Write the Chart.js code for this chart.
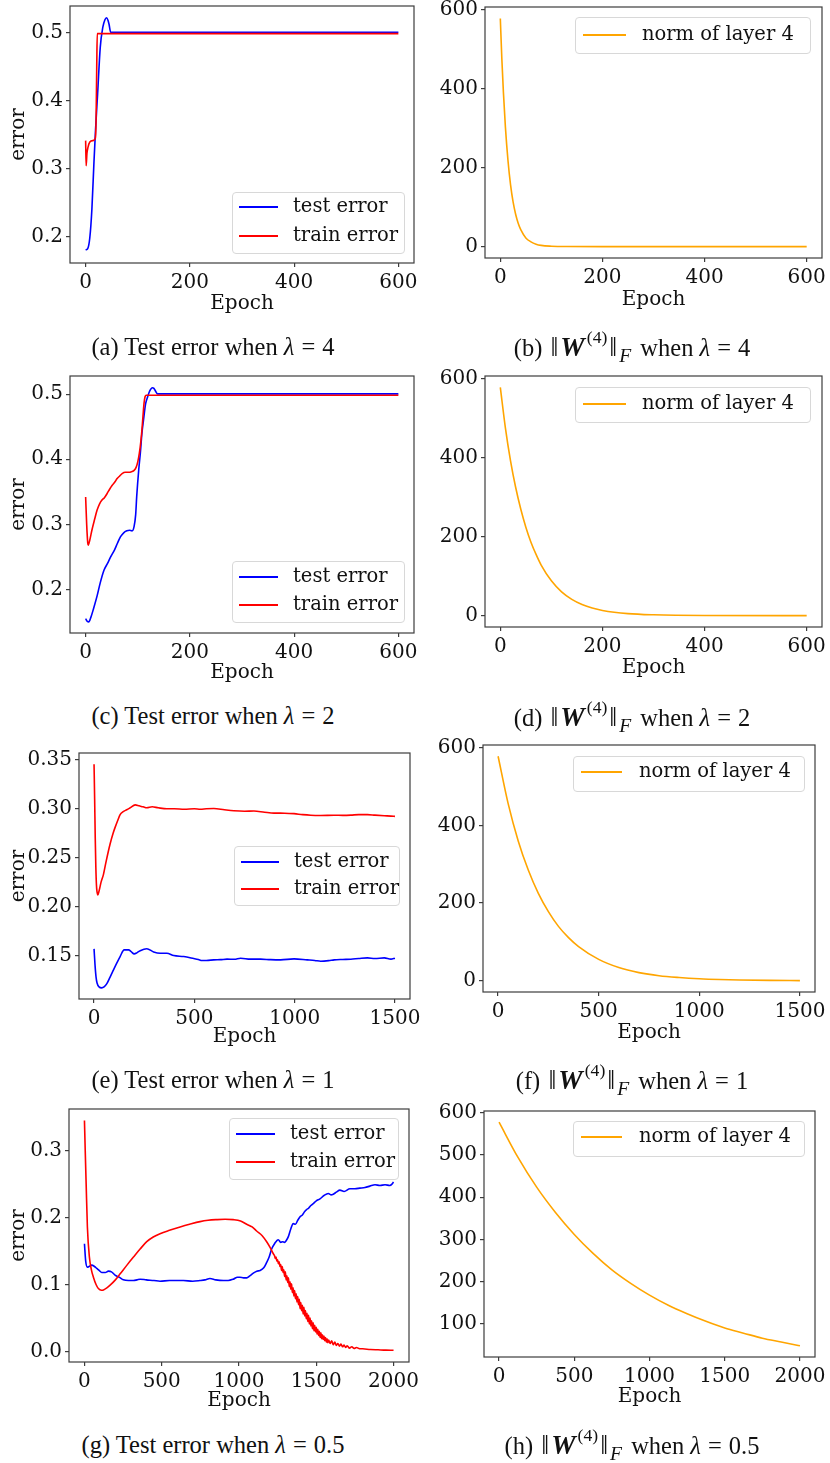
<!DOCTYPE html>
<html>
<head>
<meta charset="utf-8">
<script src="https://cdn.jsdelivr.net/npm/chart.js@4.4.0/dist/chart.umd.min.js"></script>
<style>
  body { margin: 0; background: #fff; }
  #page { position: relative; width: 830px; height: 1463px; overflow: hidden; background: #fff; }
  canvas { position: absolute; }
  .leg { position: absolute; background: rgba(255,255,255,0.8); border: 1px solid #d8d8d8; border-radius: 4px; box-sizing: border-box; }
  .legline { position: absolute; height: 2px; }
  .legtxt { position: absolute; font: 19.5px 'DejaVu Serif'; line-height: 20px; white-space: nowrap; color: #111; }
  .cap { position: absolute; transform: translate(-50%, -50%); font: 24.5px 'Liberation Serif'; white-space: nowrap; color: #111; }
  .cap .nm { font-size: 1.15em; margin: 0 2px; }
  .cap .w { font-size: 1.12em; margin-right: 1px; }
  .cap .eq { margin: 0 7px; }
  .cap sup { font-size: 0.72em; vertical-align: 0.75em; line-height: 0; margin-left: 1px; }
  .cap sub { font-size: 0.8em; vertical-align: -0.3em; line-height: 0; margin-right: 3px; }
</style>
</head>
<body>
<div id="page"></div>
<script>
// tick labels
const ticks600 = [0, 200, 400, 600];
const ticks1500 = [0, 500, 1000, 1500];
const ticks2000 = [0, 500, 1000, 1500, 2000];
const errTicksAC = [0.2, 0.3, 0.4, 0.5];
const errTicksE = [0.15, 0.20, 0.25, 0.30, 0.35];
const errTicksG = [0.0, 0.1, 0.2, 0.3];
const normTicks = [0, 200, 400, 600];
const normTicksH = [100, 200, 300, 400, 500, 600];

// (a) lambda = 4
const aTestEpoch = [0, 4, 8, 12, 16, 19, 23, 28, 33, 37, 40, 43, 45, 48, 600];
const aTest = [0.180, 0.182, 0.198, 0.24, 0.31, 0.357, 0.41, 0.478, 0.508, 0.519, 0.522, 0.518, 0.512, 0.5005, 0.5005];
const aTrainEpoch = [0, 1, 2.5, 4.5, 8, 14, 18.5, 20, 21.3, 22.3, 600];
const aTrain = [0.341, 0.304, 0.322, 0.331, 0.339, 0.341, 0.344, 0.37, 0.45, 0.4985, 0.4985];

// (b) norm, lambda = 4
const bEpoch = [0, 3, 6, 10, 15, 20, 25, 30, 35, 40, 50, 60, 70, 80, 100, 130, 200, 600];
const bNorm = [578, 475, 392, 302, 218, 157, 113, 82, 59, 43, 22, 12, 6, 3, 1, 0.2, 0, 0];

// (c) lambda = 2
const cTestEpoch = [0, 3, 6, 10, 15, 22, 28, 35, 42, 48, 55, 61, 67, 73, 79, 84, 89, 93, 96, 98, 102, 105, 108, 111, 115, 119, 123, 128, 131, 134, 138, 600];
const cTest = [0.155, 0.151, 0.150, 0.157, 0.170, 0.190, 0.210, 0.229, 0.240, 0.250, 0.260, 0.271, 0.281, 0.287, 0.290, 0.291, 0.290, 0.297, 0.315, 0.343, 0.385, 0.41, 0.44, 0.46, 0.485, 0.496, 0.505, 0.510, 0.509, 0.505, 0.5005, 0.5005];
const cTrainEpoch = [0, 2, 4, 5, 8, 12, 17, 22, 27, 31, 36, 41, 46, 51, 56, 60, 65, 70, 76, 83, 88, 93, 97, 100, 103, 106, 108, 110, 112, 114, 116, 600];
const cTrain = [0.342, 0.30, 0.272, 0.268, 0.276, 0.291, 0.307, 0.322, 0.332, 0.337, 0.341, 0.347, 0.354, 0.360, 0.365, 0.370, 0.374, 0.378, 0.380, 0.380, 0.381, 0.383, 0.388, 0.396, 0.409, 0.428, 0.445, 0.466, 0.486, 0.496, 0.4985, 0.4985];

// (d) norm, lambda = 2
const dEpoch = [0, 10, 20, 30, 40, 50, 60, 70, 80, 100, 120, 140, 160, 180, 200, 250, 300, 400, 600];
const dNorm = [578, 475, 392, 325, 270, 224, 186, 155, 128, 88, 60, 41, 28, 19, 13, 5, 2, 0.3, 0];

// (e) lambda = 1
const eTestEpoch = [0, 5, 10, 15, 25, 38, 50, 63, 80, 97, 115, 130, 150, 172, 185, 200, 215, 230, 263, 297, 330, 363, 397, 447, 497, 520, 538, 560, 597, 630, 663, 700, 730, 780, 830, 880, 930, 997, 1063, 1100, 1130, 1170, 1197, 1240, 1280, 1320, 1363, 1400, 1447, 1480, 1500];
const eTest = [0.1568, 0.140, 0.128, 0.122, 0.118, 0.117, 0.118, 0.121, 0.128, 0.1354, 0.143, 0.149, 0.1558, 0.1558, 0.154, 0.1517, 0.153, 0.155, 0.157, 0.1537, 0.1524, 0.1524, 0.150, 0.149, 0.147, 0.146, 0.145, 0.145, 0.1456, 0.1458, 0.1463, 0.1462, 0.1473, 0.1463, 0.1463, 0.1458, 0.1456, 0.1466, 0.1456, 0.145, 0.1442, 0.1448, 0.1456, 0.146, 0.1463, 0.147, 0.1476, 0.147, 0.1476, 0.1463, 0.1473];
const eTrainEpoch = [0, 3, 6, 9, 12, 15, 19, 25, 35, 47, 60, 80, 95, 105, 118, 130, 145, 163, 180, 205, 225, 245, 263, 290, 320, 363, 400, 450, 500, 530, 560, 597, 650, 697, 750, 797, 850, 897, 950, 997, 1040, 1080, 1130, 1197, 1240, 1280, 1320, 1363, 1400, 1447, 1480, 1500];
const eTrain = [0.3456, 0.31, 0.27, 0.24, 0.222, 0.215, 0.212, 0.216, 0.225, 0.233, 0.246, 0.264, 0.275, 0.281, 0.288, 0.294, 0.297, 0.299, 0.301, 0.304, 0.303, 0.302, 0.301, 0.302, 0.301, 0.300, 0.300, 0.2995, 0.300, 0.2995, 0.300, 0.3003, 0.299, 0.298, 0.2975, 0.2977, 0.2965, 0.2956, 0.2955, 0.295, 0.294, 0.2934, 0.2932, 0.2934, 0.2933, 0.2935, 0.294, 0.294, 0.2935, 0.2929, 0.2925, 0.2922];

// (f) norm, lambda = 1
const fEpoch = [0, 50, 100, 150, 200, 250, 300, 350, 400, 500, 600, 700, 800, 900, 1000, 1100, 1200, 1350, 1500];
const fNorm = [578, 456, 360, 285, 225, 178, 140, 111, 88, 55, 34, 21, 13, 8.4, 5.2, 3.2, 2, 1, 0.5];

// (g) lambda = 0.5
const gTestEpoch = [0, 8, 19, 30, 47, 65, 80, 95, 112, 135, 155, 175, 198, 225, 252, 285, 317, 340, 360, 400, 450, 489, 550, 600, 640, 700, 748, 780, 812, 850, 899, 930, 963, 990, 1006, 1030, 1050, 1070, 1093, 1115, 1136, 1160, 1179, 1195, 1211, 1230, 1254, 1270, 1282, 1295, 1304, 1320, 1335, 1351, 1365, 1380, 1394, 1410, 1425, 1437, 1450, 1465, 1481, 1500, 1524, 1550, 1578, 1595, 1610, 1630, 1653, 1680, 1718, 1750, 1782, 1815, 1847, 1880, 1912, 1945, 1976, 1990, 2000];
const gTest = [0.161, 0.135, 0.126, 0.127, 0.129, 0.127, 0.124, 0.121, 0.118, 0.118, 0.120, 0.119, 0.114, 0.111, 0.107, 0.106, 0.106, 0.107, 0.108, 0.107, 0.106, 0.105, 0.106, 0.106, 0.106, 0.105, 0.106, 0.107, 0.109, 0.107, 0.106, 0.106, 0.108, 0.111, 0.111, 0.110, 0.110, 0.113, 0.117, 0.120, 0.121, 0.125, 0.133, 0.141, 0.153, 0.161, 0.167, 0.163, 0.164, 0.163, 0.165, 0.172, 0.183, 0.191, 0.190, 0.196, 0.201, 0.204, 0.209, 0.212, 0.214, 0.218, 0.221, 0.225, 0.228, 0.233, 0.236, 0.234, 0.235, 0.238, 0.241, 0.239, 0.243, 0.243, 0.244, 0.245, 0.247, 0.249, 0.248, 0.249, 0.248, 0.250, 0.253];
const gTrainEpoch = [0, 5, 11, 19, 32, 45, 58, 75, 90, 110, 123, 145, 166, 200, 231, 275, 317, 360, 403, 445, 489, 550, 619, 680, 748, 800, 856, 910, 963, 1010, 1050, 1085, 1114, 1150, 1179, 1200, 1222,
  1230, 1235, 1240, 1245, 1250, 1255, 1260, 1265, 1270, 1275, 1280, 1285, 1290, 1295, 1300, 1305, 1310, 1315, 1320, 1325, 1330, 1335, 1340, 1345, 1350, 1355, 1360, 1365, 1370, 1375, 1380, 1385, 1390, 1395,
  1400, 1405, 1410, 1415, 1420, 1425, 1430, 1435, 1440, 1445, 1450, 1455, 1460, 1465, 1470, 1475, 1480, 1485, 1490, 1495, 1500, 1505, 1510, 1515, 1520, 1525, 1530, 1535, 1540, 1545, 1550, 1555, 1560, 1565,
  1570, 1575, 1580, 1590, 1600, 1610, 1620, 1630, 1640, 1650, 1660, 1670, 1680, 1690, 1700, 1715, 1730, 1745, 1760, 1780, 1800, 1850, 1900, 1950, 2000];
const gTrain = [0.345, 0.30, 0.25, 0.186, 0.141, 0.122, 0.111, 0.100, 0.094, 0.0915, 0.092, 0.095, 0.099, 0.107, 0.116, 0.129, 0.141, 0.153, 0.164, 0.171, 0.176, 0.181, 0.186, 0.190, 0.194, 0.196, 0.197, 0.1975, 0.197, 0.195, 0.190, 0.186, 0.180, 0.173, 0.164, 0.156, 0.146,
  0.143, 0.139, 0.141, 0.135, 0.137, 0.131, 0.134, 0.127, 0.130, 0.121, 0.127, 0.118, 0.122, 0.112, 0.119, 0.107, 0.113, 0.103, 0.110, 0.097, 0.104, 0.093, 0.101, 0.088, 0.095, 0.083, 0.091, 0.079, 0.086, 0.074, 0.082, 0.070, 0.078, 0.064,
  0.073, 0.061, 0.069, 0.056, 0.066, 0.053, 0.061, 0.049, 0.057, 0.045, 0.054, 0.041, 0.050, 0.038, 0.046, 0.034, 0.043, 0.031, 0.039, 0.029, 0.036, 0.026, 0.033, 0.024, 0.030, 0.021, 0.028, 0.019, 0.025, 0.018, 0.023, 0.016, 0.021, 0.014,
  0.019, 0.013, 0.017, 0.012, 0.016, 0.010, 0.014, 0.009, 0.012, 0.008, 0.011, 0.007, 0.0095, 0.006, 0.0085, 0.005, 0.007, 0.0045, 0.006, 0.0042, 0.004, 0.003, 0.0025, 0.002, 0.0018];

// (h) norm, lambda = 0.5
const hEpoch = [0, 125, 250, 375, 500, 625, 750, 875, 1000, 1125, 1250, 1375, 1500, 1625, 1750, 1875, 2000];
const hNorm = [578, 495, 424, 364, 312, 267, 228, 196, 168, 144, 124, 106, 90, 78, 66, 57, 48];

const BLUE = '#0000ff', RED = '#ff0000', ORANGE = '#ffa500';

const page = document.getElementById('page');
const FONT = { family: "'DejaVu Serif'", size: 20, lineHeight: 1 };

function pts(xs, ys) {
  return xs.map((x, i) => ({ x: x, y: ys[i] }));
}

// full box round the plot, like matplotlib spines
const framePlugin = {
  id: 'frame',
  afterDraw(chart) {
    const a = chart.chartArea, ctx = chart.ctx;
    ctx.save();
    ctx.strokeStyle = '#3c3c3c';
    ctx.lineWidth = 1.2;
    ctx.strokeRect(a.left, a.top, a.right - a.left, a.bottom - a.top);
    ctx.restore();
  }
};

function makePanel(p) {
  const padL = 85, padT = 16, padR = 32, padB = 66;
  const w = p.r - p.l, h = p.b - p.t;
  const canvas = document.createElement('canvas');
  canvas.width = w + padL + padR;
  canvas.height = h + padT + padB;
  canvas.style.left = (p.l - padL) + 'px';
  canvas.style.top = (p.t - padT) + 'px';
  page.appendChild(canvas);

  const tickGrid = { display: true, drawOnChartArea: false, drawTicks: true, tickLength: 4, color: '#3c3c3c', lineWidth: 1.2 };
  let pad = { left: padL - p.yw, top: padT, right: padR, bottom: padB - p.xh };

  const chart = new Chart(canvas, {
    type: 'line',
    data: {
      datasets: p.series.map(s => ({
        data: pts(s.x, s.y),
        borderColor: s.color,
        borderWidth: 1.6,
        pointRadius: 0,
        fill: false,
        order: s.order || 0,
        cubicInterpolationMode: 'monotone'
      }))
    },
    options: {
      responsive: false,
      animation: false,
      events: [],
      layout: { padding: pad },
      plugins: { legend: { display: false }, tooltip: { enabled: false } },
      scales: {
        x: {
          type: 'linear', min: p.xMin, max: p.xMax,
          grid: tickGrid, border: { display: false },
          afterBuildTicks: s => { s.ticks = p.xTicks.map(v => ({ value: v })); },
          afterFit: s => { s.height = p.xh; },
          ticks: { font: FONT, color: '#111', padding: 6, maxRotation: 0, autoSkip: false, callback: v => String(v) },
          title: { display: true, text: 'Epoch', font: FONT, color: '#111', padding: 0 }
        },
        y: {
          type: 'linear', min: p.yMin, max: p.yMax,
          grid: tickGrid, border: { display: false },
          afterBuildTicks: s => { s.ticks = p.yTicks.map(v => ({ value: v })); },
          afterFit: s => { s.width = p.yw; },
          ticks: { font: FONT, color: '#111', padding: 3, autoSkip: false, callback: v => Number(v).toFixed(p.yDec) },
          title: { display: !!p.yTitle, text: p.yTitle || '', font: FONT, color: '#111', padding: 0 }
        }
      }
    },
    plugins: [framePlugin]
  });

  // nudge padding so the plot area sits where it is in the reference
  for (let k = 0; k < 3; k++) {
    const a = chart.chartArea;
    pad = {
      left: pad.left + (padL - a.left),
      top: pad.top + (padT - a.top),
      right: pad.right + (a.right - (padL + w)),
      bottom: pad.bottom + (a.bottom - (padT + h))
    };
    chart.options.layout.padding = pad;
    chart.update('none');
  }
}

function legend(box, rows, x0, x1, tx) {
  const d = document.createElement('div');
  d.className = 'leg';
  d.style.left = box[0] + 'px'; d.style.top = box[1] + 'px';
  d.style.width = (box[2] - box[0]) + 'px'; d.style.height = (box[3] - box[1]) + 'px';
  page.appendChild(d);
  rows.forEach(r => {
    const ln = document.createElement('div');
    ln.className = 'legline';
    ln.style.left = x0 + 'px'; ln.style.width = (x1 - x0) + 'px';
    ln.style.top = (r.y - 1) + 'px'; ln.style.background = r.color;
    page.appendChild(ln);
    const t = document.createElement('div');
    t.className = 'legtxt';
    t.style.left = tx + 'px'; t.style.top = (r.y - 11) + 'px';
    t.textContent = r.label;
    page.appendChild(t);
  });
}

function caption(cx, cy, html) {
  const d = document.createElement('div');
  d.className = 'cap';
  d.style.left = cx + 'px'; d.style.top = cy + 'px';
  d.innerHTML = html;
  page.appendChild(d);
}

function errSeries(te, tv, re, rv) {
  return [
    { x: te, y: tv, color: BLUE, order: 1 },
    { x: re, y: rv, color: RED, order: 0 }
  ];
}

// left column: test / train error
makePanel({ l: 70, t: 6, r: 414, b: 263, xMin: -30, xMax: 630, xTicks: ticks600, yMin: 0.1608, yMax: 0.5392, yTicks: errTicksAC, yDec: 1,
  yTitle: 'error', yw: 61, xh: 51, series: errSeries(aTestEpoch, aTest, aTrainEpoch, aTrain) });
makePanel({ l: 70, t: 376, r: 414, b: 633, xMin: -30, xMax: 630, xTicks: ticks600, yMin: 0.1330, yMax: 0.5280, yTicks: errTicksAC, yDec: 1,
  yTitle: 'error', yw: 61, xh: 50, series: errSeries(cTestEpoch, cTest, cTrainEpoch, cTrain) });
makePanel({ l: 79, t: 753, r: 410, b: 999, xMin: -75, xMax: 1575, xTicks: ticks1500, yMin: 0.1056, yMax: 0.3570, yTicks: errTicksE, yDec: 2,
  yTitle: 'error', yw: 70, xh: 48, series: errSeries(eTestEpoch, eTest, eTrainEpoch, eTrain) });
makePanel({ l: 69, t: 1109, r: 409, b: 1362, xMin: -100, xMax: 2100, xTicks: ticks2000, yMin: -0.0157, yMax: 0.3622, yTicks: errTicksG, yDec: 1,
  yTitle: 'error', yw: 60, xh: 49, series: errSeries(gTestEpoch, gTest, gTrainEpoch, gTrain) });

// right column: norm of layer 4
makePanel({ l: 485, t: 7, r: 822, b: 258, xMin: -30, xMax: 630, xTicks: ticks600, yMin: -28.9, yMax: 606.9, yTicks: normTicks, yDec: 0,
  yw: 55, xh: 52, series: [{ x: bEpoch, y: bNorm, color: ORANGE }] });
makePanel({ l: 485, t: 376, r: 822, b: 627, xMin: -30, xMax: 630, xTicks: ticks600, yMin: -28.9, yMax: 606.9, yTicks: normTicks, yDec: 0,
  yw: 55, xh: 51, series: [{ x: dEpoch, y: dNorm, color: ORANGE }] });
makePanel({ l: 483, t: 745, r: 815, b: 992, xMin: -75, xMax: 1575, xTicks: ticks1500, yMin: -28.9, yMax: 606.9, yTicks: normTicks, yDec: 0,
  yw: 55, xh: 51, series: [{ x: fEpoch, y: fNorm, color: ORANGE }] });
makePanel({ l: 484, t: 1111, r: 815, b: 1357, xMin: -100, xMax: 2100, xTicks: ticks2000, yMin: 21.5, yMax: 604.5, yTicks: normTicksH, yDec: 0,
  yw: 55, xh: 50, series: [{ x: hEpoch, y: hNorm, color: ORANGE }] });

// legends
const errRows = (y1, y2) => [{ y: y1, color: BLUE, label: 'test error' }, { y: y2, color: RED, label: 'train error' }];
legend([232, 192, 405, 254], errRows(207, 236), 239, 278, 293);
legend([232, 561, 405, 623], errRows(577, 605), 239, 278, 293);
legend([234, 846, 400, 906], errRows(862, 889), 241, 279, 294);
legend([229, 1118, 399, 1180], errRows(1134, 1162), 236, 275, 290);
const normRow = y => [{ y: y, color: ORANGE, label: 'norm of layer 4' }];
legend([575, 17, 811, 54], normRow(35), 583, 626, 642);
legend([575, 387, 811, 423], normRow(404), 583, 626, 642);
legend([573, 756, 805, 792], normRow(772), 581, 622, 639);
legend([573, 1121, 805, 1157], normRow(1137), 581, 622, 639);

// captions
const normCap = (tag, lam) => '(' + tag + ') <span class="nm">‖</span><b><i class="w">W</i></b><sup>(4)</sup><span class="nm">‖</span><sub><i>F</i></sub> when <i>λ</i><span class="eq">=</span>' + lam;
const errCap = (tag, lam) => '(' + tag + ') Test error when <i>λ</i><span class="eq">=</span>' + lam;
caption(213, 347, errCap('a', '4'));
caption(632, 347, normCap('b', '4'));
caption(213, 716, errCap('c', '2'));
caption(632, 717, normCap('d', '2'));
caption(213, 1080, errCap('e', '1'));
caption(632, 1080, normCap('f', '1'));
caption(213, 1445, errCap('g', '0.5'));
caption(632, 1445, normCap('h', '0.5'));
</script>
</body>
</html>
